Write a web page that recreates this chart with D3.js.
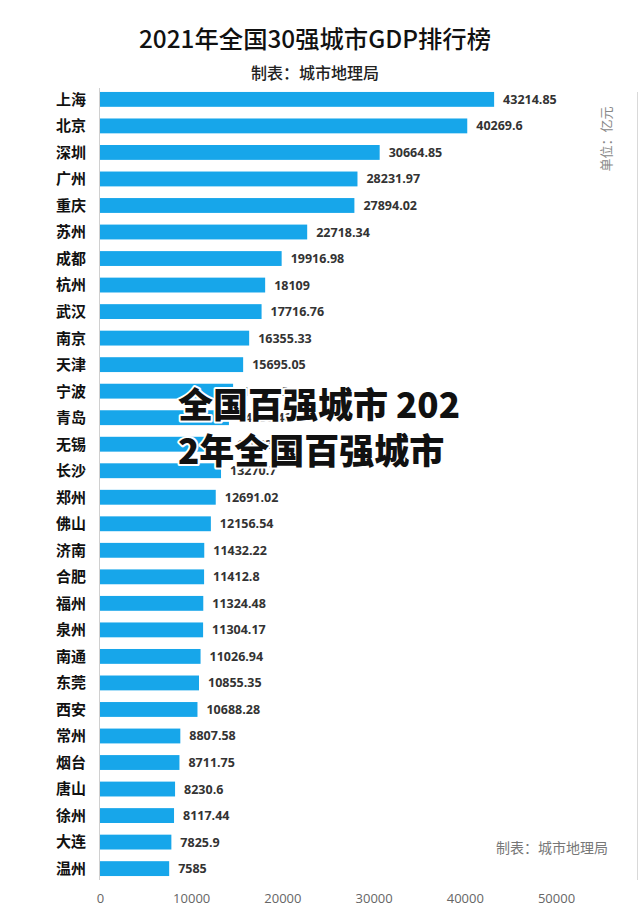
<!DOCTYPE html>
<html><head><meta charset="utf-8">
<script src="https://cdn.jsdelivr.net/npm/d3@7"></script>
<style>
html,body{margin:0;padding:0;background:#fff;}
svg{display:block;font-family:"Noto Sans CJK SC","Noto Sans",sans-serif;}
</style></head>
<body>
<svg id="chart" width="640" height="910"></svg>
<script>
const cities = ["上海","北京","深圳","广州","重庆","苏州","成都","杭州","武汉","南京","天津","宁波","青岛","无锡","长沙","郑州","佛山","济南","合肥","福州","泉州","南通","东莞","西安","常州","烟台","唐山","徐州","大连","温州"];
const gdp = [43214.85,40269.6,30664.85,28231.97,27894.02,22718.34,19916.98,18109,17716.76,16355.33,15695.05,14594.9,14136.46,14003.24,13270.7,12691.02,12156.54,11432.22,11412.8,11324.48,11304.17,11026.94,10855.35,10688.28,8807.58,8711.75,8230.6,8117.44,7825.9,7585];
const valueLabels = ["43214.85","40269.6","30664.85","28231.97","27894.02","22718.34","19916.98","18109","17716.76","16355.33","15695.05","14594.9","14136.46","14003.24","13270.7","12691.02","12156.54","11432.22","11412.8","11324.48","11304.17","11026.94","10855.35","10688.28","8807.58","8711.75","8230.6","8117.44","7825.9","7585"];
const xTicks = [0,10000,20000,30000,40000,50000];
const title = "2021年全国30强城市GDP排行榜";
const subtitle = "制表：城市地理局";
const unitText = "单位：亿元";
const sourceText = "制表：城市地理局";
const watermark = ["全国百强城市 202","2年全国百强城市"];

const svg = d3.select("#chart");
const x = d3.scaleLinear().domain([0,50000]).range([100,556]);
const y = d3.scaleBand().domain(cities).range([84,884]).paddingInner(0.44).paddingOuter(0.3);

// right border line
svg.append("line").attr("x1",637.5).attr("x2",637.5).attr("y1",92).attr("y2",880)
  .attr("stroke","#d9d9d9").attr("stroke-width",1);

// title
svg.append("text").attr("x",315).attr("y",48).attr("text-anchor","middle")
  .attr("font-size",24).attr("font-weight",500).attr("fill","#111").attr("textLength",352).attr("lengthAdjust","spacingAndGlyphs").text(title);
svg.append("text").attr("x",315).attr("y",79).attr("text-anchor","middle")
  .attr("font-size",16).attr("font-weight",500).attr("fill","#222").text(subtitle);

// axis baseline
svg.append("line").attr("x1",x(0)-0.5).attr("x2",x(0)-0.5).attr("y1",88).attr("y2",880)
  .attr("stroke","#d0d0d0").attr("stroke-width",1);

// bars
svg.append("g").selectAll("rect").data(cities).join("rect")
  .attr("x",x(0)).attr("y",d=>y(d)).attr("height",y.bandwidth())
  .attr("width",(d,i)=>x(gdp[i])-x(0)).attr("fill","#17a6ea");

// city labels
svg.append("g").selectAll("text").data(cities).join("text")
  .attr("x",86).attr("y",d=>y(d)+y.bandwidth()/2).attr("dy","0.36em")
  .attr("text-anchor","end").attr("font-size",15).attr("font-weight","bold").attr("fill","#111")
  .text(d=>d);

// value labels
svg.append("g").selectAll("text").data(cities).join("text")
  .attr("x",(d,i)=>x(gdp[i])+9).attr("y",d=>y(d)+y.bandwidth()/2).attr("dy","0.36em")
  .attr("font-size",12.5).attr("font-weight","bold").attr("fill","#333")
  .attr("font-family","'Open Sans','Noto Sans',sans-serif")
  .text((d,i)=>valueLabels[i]);

// x axis
const xAxis = d3.axisBottom(x).tickValues(xTicks).tickSize(0).tickPadding(0).tickFormat(d=>String(d));
const gx = svg.append("g").attr("transform","translate(0,894)").call(xAxis);
gx.select(".domain").remove();
gx.selectAll("text").attr("font-size",13).attr("fill","#666").attr("font-family","'Open Sans','Noto Sans',sans-serif");

// unit label
svg.append("text").attr("transform","translate(611,139) rotate(-90)").attr("text-anchor","middle")
  .attr("font-size",13).attr("fill","#888").text(unitText);

// source
svg.append("text").attr("x",608).attr("y",853).attr("text-anchor","end")
  .attr("font-size",14).attr("fill","#777").text(sourceText);

// watermark
svg.append("g").selectAll("text").data(watermark).join("text")
  .attr("x",178).attr("y",(d,i)=>418+i*46)
  .attr("font-size",35).attr("font-weight",900).attr("fill","#111")
  .attr("stroke","#fff").attr("stroke-width",4).attr("paint-order","stroke").attr("stroke-linejoin","round")
  .text(d=>d);
</script>
</body></html>
